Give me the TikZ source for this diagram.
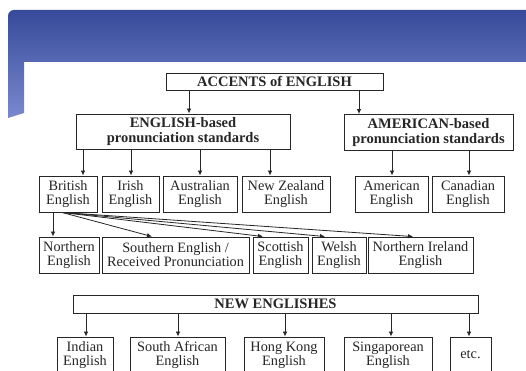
\documentclass[tikz,border=0pt]{standalone}
\usepackage{fontspec}
\setmainfont{Liberation Serif}
\usetikzlibrary{arrows.meta}
\begin{document}
\begin{tikzpicture}[x=1pt,y=-1pt,
  box/.style={draw=black!85, line width=0.9pt, inner sep=0pt, align=center, text=black!85,
              font=\fontsize{14.3}{14}\selectfont},
  hbox/.style={box, font=\fontsize{14.5}{15}\selectfont\bfseries},
  rowbox/.style={box, minimum height=36pt},
  arr/.style={draw=black!85, line width=0.8pt, -{Latex[length=5pt,width=4.5pt]}}]
\useasboundingbox (0,0) rectangle (526,371);
\clip (0,0) rectangle (526,371);
\fill[white] (0,0) rectangle (526,371);
% banner
\shade[top color={rgb,255:red,54;green,74;blue,154}, bottom color={rgb,255:red,122;green,137;blue,206}]
  (8,118) [rounded corners=6pt] -- (8,10) -- (540,10) [sharp corners] -- (540,62) -- (24,62) -- (24,113) -- cycle;

% top levels
\node[hbox, minimum width=217pt, minimum height=17pt] (acc) at (274.5,81.5) {ACCENTS of ENGLISH};
\node[hbox, minimum width=214pt, minimum height=35pt] (eng) at (183,131.5) {ENGLISH-based\\pronunciation standards};
\node[hbox, minimum width=169pt, minimum height=36pt] (ame) at (428.5,132.5) {AMERICAN-based\\pronunciation standards};

% row 2
\node[rowbox, minimum width=58pt] (brit) at (68,194) {British\\English};
\node[rowbox, minimum width=57pt] (irish) at (130.5,194) {Irish\\English};
\node[rowbox, minimum width=74pt] (aus) at (200,194) {Australian\\English};
\node[rowbox, minimum width=88pt] (nz) at (286,194) {New Zealand\\English};
\node[rowbox, minimum width=73pt] (amer) at (391.5,194) {American\\English};
\node[rowbox, minimum width=72pt] (can) at (468,194) {Canadian\\English};

% row 3
\node[rowbox, minimum width=60pt] (north) at (69,255) {Northern\\English};
\node[rowbox, minimum width=147pt] (south) at (175.5,255) {Southern English /\\Received Pronunciation};
\node[rowbox, minimum width=55pt] (scot) at (280.5,255) {Scottish\\English};
\node[rowbox, minimum width=54pt] (welsh) at (339,255) {Welsh\\English};
\node[rowbox, minimum width=105pt] (nire) at (420.5,255) {Northern Ireland\\English};

% new englishes
\node[hbox, minimum width=405pt, minimum height=18pt] (new) at (275.5,304) {NEW ENGLISHES};
\node[rowbox, minimum width=56pt] (indian) at (85,355) {Indian\\English};
\node[rowbox, minimum width=95pt] (safr) at (177.5,355) {South African\\English};
\node[rowbox, minimum width=80pt] (hk) at (284,355) {Hong Kong\\English};
\node[rowbox, minimum width=88pt] (sing) at (388,355) {Singaporean\\English};
\node[rowbox, minimum width=41pt] (etc) at (470.5,355) {etc.};

% arrows
\draw[arr] (acc.south -| 189,0) -- (eng.north -| 189,0);
\draw[arr] (acc.south -| 359,0) -- (ame.north -| 359,0);
\draw[arr] (eng.south -| 83,0) -- (brit.north -| 83,0);
\draw[arr] (eng.south -| 131,0) -- (irish.north -| 131,0);
\draw[arr] (eng.south -| 200,0) -- (aus.north -| 200,0);
\draw[arr] (eng.south -| 270,0) -- (nz.north -| 270,0);
\draw[arr] (ame.south -| 392,0) -- (amer.north -| 392,0);
\draw[arr] (ame.south -| 469,0) -- (can.north -| 469,0);

\draw[arr] (brit.south -| 53,0) -- (north.north -| 53,0);
\coordinate (fan) at ([xshift=-6pt]brit.south);
\draw[arr] (fan) -- (south.north -| 152,0);
\draw[arr] (fan) -- (scot.north -| 263,0);
\draw[arr] (fan) -- (welsh.north -| 325,0);
\draw[arr] (fan) -- (nire.north -| 413,0);

\draw[arr] (new.south -| 86,0) -- (indian.north -| 86,0);
\draw[arr] (new.south -| 178,0) -- (safr.north -| 178,0);
\draw[arr] (new.south -| 285,0) -- (hk.north -| 285,0);
\draw[arr] (new.south -| 391,0) -- (sing.north -| 391,0);
\draw[arr] (new.south -| 469,0) -- (etc.north -| 469,0);
\end{tikzpicture}
\end{document}
